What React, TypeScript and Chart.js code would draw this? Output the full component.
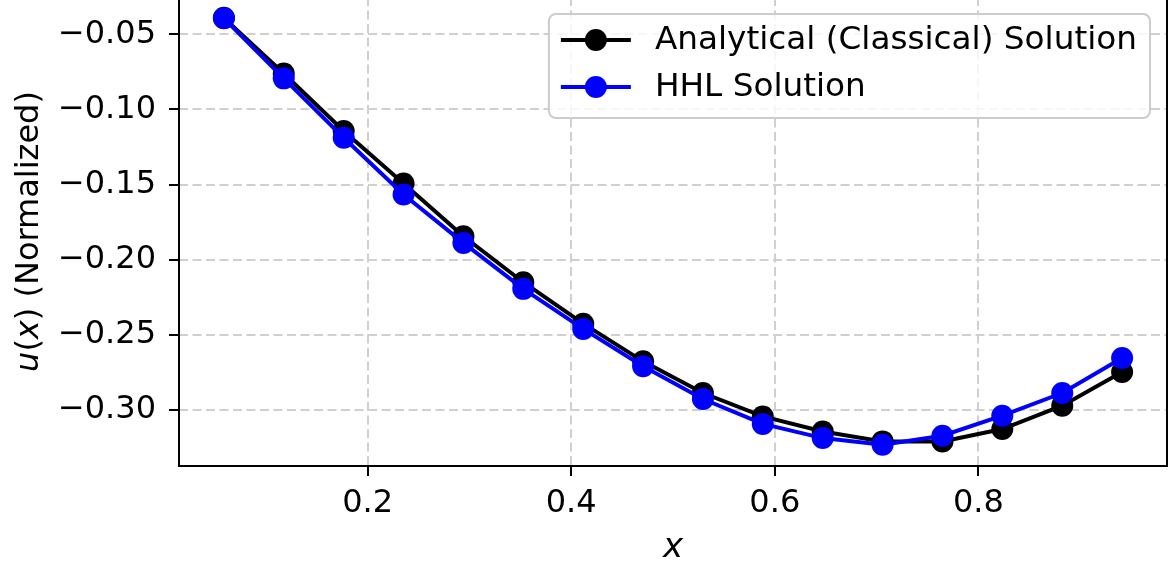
import React, { useEffect, useRef } from "react";
import { Chart, registerables } from "chart.js";

Chart.register(...registerables);

// Grid points on the unit interval
const xValues = [
  0.0588, 0.1176, 0.1765, 0.2353, 0.2941, 0.3529, 0.4118, 0.4706,
  0.5294, 0.5882, 0.6471, 0.7059, 0.7647, 0.8235, 0.8824, 0.9412,
];

// Normalized solution values
const analytical = [
  -0.039, -0.076, -0.1144, -0.1493, -0.1845, -0.2151, -0.2427, -0.2678,
  -0.2889, -0.3045, -0.3145, -0.3211, -0.3211, -0.3129, -0.2973, -0.2749,
];
const hhl = [
  -0.0393, -0.0793, -0.1189, -0.1567, -0.1889, -0.2195, -0.2462, -0.2711,
  -0.2929, -0.3095, -0.3189, -0.3233, -0.3173, -0.304, -0.2889, -0.2655,
];

const seriesNames = ["Analytical (Classical) Solution", "HHL Solution"];
const seriesColors = ["#000000", "#0000ff"];

const xTickValues = [0.2, 0.4, 0.6, 0.8];
const yTickValues = [-0.3, -0.25, -0.2, -0.15, -0.1, -0.05];

const FAMILY = '"DejaVu Sans", sans-serif';
const TICK_SIZE = 32;
const LABEL_SIZE = 32;
const LEGEND_SIZE = 32.7;

const fmtY = (v: number) => v.toFixed(2).replace("-", "\u2212");
const fmtX = (v: number) => v.toFixed(1).replace("-", "\u2212");

type Seg = { t: string; italic: boolean };

function drawSegments(ctx: CanvasRenderingContext2D, segs: Seg[], size: number, centerX: number, baseY: number) {
  const fontFor = (s: Seg) => `${s.italic ? "oblique " : ""}${size}px ${FAMILY}`;
  let total = 0;
  for (const s of segs) {
    ctx.font = fontFor(s);
    total += ctx.measureText(s.t).width;
  }
  let x = centerX - total / 2;
  ctx.textAlign = "left";
  ctx.textBaseline = "alphabetic";
  for (const s of segs) {
    ctx.font = fontFor(s);
    ctx.fillText(s.t, x, baseY);
    x += ctx.measureText(s.t).width;
  }
}

// Axes frame, axis titles and a matplotlib-style legend
const decorations = {
  id: "decorations",
  afterDatasetsDraw(chart: any) {
    const { ctx, chartArea } = chart;
    const { left, right, top, bottom } = chartArea;
    ctx.save();

    // spines
    ctx.strokeStyle = "#000";
    ctx.lineWidth = 2;
    ctx.setLineDash([]);
    ctx.strokeRect(left, top, right - left, bottom - top);

    // x title
    ctx.fillStyle = "#000";
    drawSegments(ctx, [{ t: "x", italic: true }], LABEL_SIZE + 2, (left + right) / 2, bottom + 91);

    // y title (rotated)
    ctx.save();
    ctx.translate(38, (top + bottom) / 2);
    ctx.rotate(-Math.PI / 2);
    drawSegments(
      ctx,
      [
        { t: "u", italic: true },
        { t: "(", italic: false },
        { t: "x", italic: true },
        { t: ")", italic: false },
        { t: " (Normalized)", italic: false },
      ],
      LABEL_SIZE,
      0,
      0
    );
    ctx.restore();

    // legend
    ctx.font = `${LEGEND_SIZE}px ${FAMILY}`;
    const textW = Math.max(...chart.data.datasets.map((d: any) => ctx.measureText(d.label).width));
    const boxRight = right - 17;
    const boxTop = top + 17;
    const boxW = textW + 119;
    const boxH = 104;
    const boxLeft = boxRight - boxW;
    const r = 7;
    ctx.beginPath();
    ctx.moveTo(boxLeft + r, boxTop);
    ctx.arcTo(boxRight, boxTop, boxRight, boxTop + boxH, r);
    ctx.arcTo(boxRight, boxTop + boxH, boxLeft, boxTop + boxH, r);
    ctx.arcTo(boxLeft, boxTop + boxH, boxLeft, boxTop, r);
    ctx.arcTo(boxLeft, boxTop, boxRight, boxTop, r);
    ctx.closePath();
    ctx.fillStyle = "rgba(255,255,255,0.8)";
    ctx.fill();
    ctx.strokeStyle = "#cccccc";
    ctx.lineWidth = 2;
    ctx.stroke();

    chart.data.datasets.forEach((d: any, i: number) => {
      const cy = boxTop + 26 + i * 47;
      const lx0 = boxLeft + 12;
      const lx1 = boxLeft + 82;
      ctx.strokeStyle = d.borderColor;
      ctx.lineWidth = 4;
      ctx.beginPath();
      ctx.moveTo(lx0, cy);
      ctx.lineTo(lx1, cy);
      ctx.stroke();
      ctx.fillStyle = d.borderColor;
      ctx.beginPath();
      ctx.arc((lx0 + lx1) / 2, cy, 11, 0, Math.PI * 2);
      ctx.fill();
      ctx.fillStyle = "#000";
      ctx.font = `${LEGEND_SIZE}px ${FAMILY}`;
      ctx.textAlign = "left";
      ctx.textBaseline = "middle";
      ctx.fillText(d.label, boxLeft + 106, cy + 1);
    });

    ctx.restore();
  },
};

const noPadding = (s: any) => {
  s.paddingTop = 0;
  s.paddingBottom = 0;
  s.paddingLeft = 0;
  s.paddingRight = 0;
};

export default function App() {
  const ref = useRef<HTMLCanvasElement>(null);

  useEffect(() => {
    const canvas = ref.current;
    if (!canvas) return;

    const makeSet = (i: number, values: number[], order: number) => ({
      label: seriesNames[i],
      data: xValues.map((x, k) => ({ x, y: values[k] })),
      borderColor: seriesColors[i],
      backgroundColor: seriesColors[i],
      pointBackgroundColor: seriesColors[i],
      pointBorderColor: seriesColors[i],
      borderWidth: 4,
      pointRadius: 11,
      pointHoverRadius: 11,
      pointBorderWidth: 0,
      tension: 0,
      order,
    });

    const grid = {
      color: "#d0d0d0",
      lineWidth: 2,
      tickColor: "#000",
      tickWidth: 2,
      tickLength: 10,
      tickBorderDash: [],
    };
    const border = { display: false, dash: [9, 4.5] };

    const chart = new Chart(canvas, {
      type: "line",
      data: { datasets: [makeSet(0, analytical, 1), makeSet(1, hhl, 0)] as any },
      options: {
        responsive: false,
        animation: false,
        devicePixelRatio: 1,
        layout: { autoPadding: false, padding: { top: 1, right: 2, left: 0, bottom: 0 } },
        plugins: { legend: { display: false }, tooltip: { enabled: false } },
        scales: {
          x: {
            type: "linear",
            min: 0.0147,
            max: 0.9853,
            afterBuildTicks: (s: any) => {
              s.ticks = xTickValues.map((v) => ({ value: v }));
            },
            afterFit: (s: any) => {
              s.height = 100;
              noPadding(s);
            },
            ticks: {
              color: "#000",
              font: { family: FAMILY, size: TICK_SIZE },
              padding: 8,
              maxRotation: 0,
              autoSkip: false,
              callback: (v: any) => fmtX(Number(v)),
            },
            grid,
            border,
          },
          y: {
            type: "linear",
            min: -0.3375,
            max: -0.0251,
            afterBuildTicks: (s: any) => {
              s.ticks = yTickValues.map((v) => ({ value: v }));
            },
            afterFit: (s: any) => {
              s.width = 179;
              noPadding(s);
            },
            ticks: {
              color: "#000",
              font: { family: FAMILY, size: TICK_SIZE },
              padding: 13,
              autoSkip: false,
              callback: (v: any) => fmtY(Number(v)),
            },
            grid,
            border,
          },
        },
      },
      plugins: [decorations],
    });

    return () => chart.destroy();
  }, []);

  return (
    <div style={{ position: "absolute", left: 0, top: -4, width: 1169, height: 570 }}>
      <canvas ref={ref} width={1169} height={570} style={{ display: "block", width: 1169, height: 570 }} />
    </div>
  );
}
